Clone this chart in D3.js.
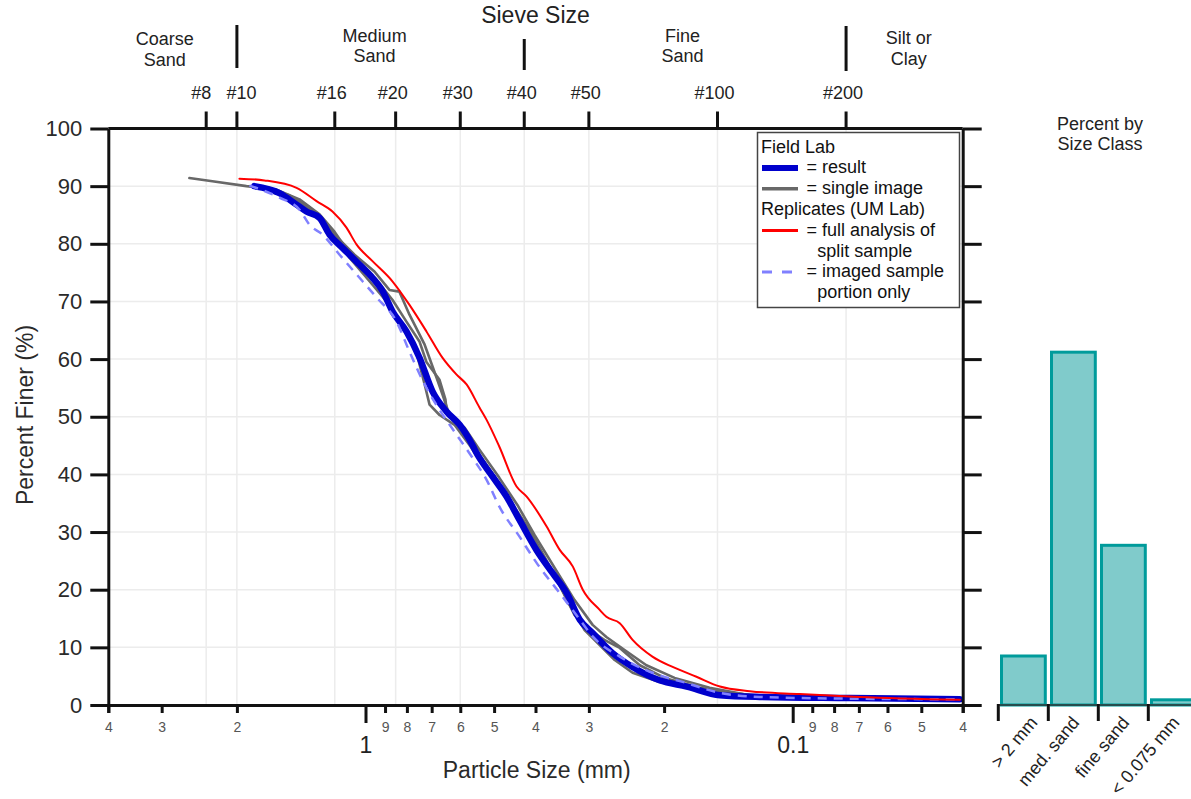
<!DOCTYPE html>
<html>
<head>
<meta charset="utf-8">
<script src="https://cdn.jsdelivr.net/npm/d3@7"></script>
<style>
  html, body { margin: 0; padding: 0; background: #fff; }
  svg { display: block; font-family: "Liberation Sans", Arial, sans-serif; }
</style>
</head>
<body>
<svg id="chart" width="1191" height="799"></svg>
<script>
// ---- Sieve scale (top axis) ----
const sieveNames = ["#8", "#10", "#16", "#20", "#30", "#40", "#50", "#100", "#200"];
const sieveSizes = [2.36, 2.0, 1.18, 0.85, 0.6, 0.425, 0.3, 0.15, 0.075];

// size-class bands: boundary sieves and label centres (mm)
const classBoundaries = [2.0, 0.425, 0.075];
const classLabels = [["Coarse", "Sand"], ["Medium", "Sand"], ["Fine", "Sand"], ["Silt or", "Clay"]];
const classCenters = [2.95, 0.952, 0.181, 0.0535];

// ---- Bottom axis ----
const sizeTicks = [4, 3, 2, 1, 0.9, 0.8, 0.7, 0.6, 0.5, 0.4, 0.3, 0.2, 0.1, 0.09, 0.08, 0.07, 0.06, 0.05, 0.04];
const majorTicks = [1, 0.1];
const percentTicks = [0, 10, 20, 30, 40, 50, 60, 70, 80, 90, 100];

// ---- Grain-size curves: [particle size (mm), percent finer] ----
const fieldResult = [
  [1.82, 90.0], [1.59, 88.8], [1.45, 86.8], [1.375, 85.6], [1.281, 84.5], [1.214, 81.6],
  [1.132, 79.3], [1.033, 76.4], [0.963, 74.1], [0.912, 71.8], [0.865, 68.3], [0.802, 64.8],
  [0.747, 60.2], [0.697, 54.4], [0.646, 50.9], [0.602, 48.6], [0.562, 45.1], [0.55, 43.75],
  [0.504, 39.6], [0.468, 36.2], [0.436, 32.1], [0.398, 26.9], [0.365, 22.9], [0.338, 19.4],
  [0.315, 14.8], [0.294, 12.5], [0.264, 9.0], [0.237, 6.6], [0.205, 4.3], [0.177, 3.2],
  [0.148, 1.7], [0.1195, 1.4], [0.0735, 1.2], [0.0406, 1.0]
];

const singleImageA = [
  [2.584, 91.4], [2.282, 90.85], [1.9, 90.0], [1.616, 89.4], [1.427, 87.7], [1.281, 85.1],
  [1.182, 82.1], [1.073, 77.6], [0.979, 74.65], [0.912, 72.4], [0.865, 70.3], [0.802, 66.5],
  [0.747, 63.0], [0.72, 59.5], [0.671, 56.4], [0.65, 53.0], [0.646, 51.2], [0.619, 49.5],
  [0.586, 47.4], [0.541, 43.4], [0.493, 39.1], [0.455, 34.7], [0.42, 30.4], [0.381, 25.2],
  [0.351, 20.8], [0.324, 15.6], [0.299, 13.0], [0.276, 11.3], [0.254, 9.9], [0.228, 6.9],
  [0.1994, 4.7], [0.1652, 3.0], [0.126, 1.7], [0.0735, 1.2], [0.0406, 1.0]
];

const singleImageB = [
  [1.82, 89.9], [1.507, 88.4], [1.352, 86.3], [1.214, 82.5], [1.09, 77.6], [0.963, 72.9],
  [0.879, 69.4], [0.81, 65.1], [0.768, 62.5], [0.727, 55.6], [0.708, 52.1], [0.671, 50.3],
  [0.619, 48.6], [0.571, 45.1], [0.512, 39.9], [0.46, 35.6], [0.413, 30.4], [0.372, 24.3],
  [0.333, 17.4], [0.307, 13.0], [0.283, 10.4], [0.261, 7.8], [0.237, 5.6], [0.205, 4.0],
  [0.1652, 2.6], [0.1195, 1.6], [0.0735, 1.2], [0.0406, 1.0]
];

const singleImageC = [
  [1.79, 89.8], [1.507, 88.0], [1.316, 85.6], [1.182, 81.6], [1.061, 78.1], [0.953, 75.2],
  [0.879, 72.0], [0.833, 71.7], [0.789, 67.7], [0.727, 62.5], [0.682, 56.8], [0.66, 53.8],
  [0.636, 50.3], [0.586, 48.1], [0.541, 44.3], [0.486, 39.4], [0.441, 34.7], [0.402, 29.5],
  [0.361, 23.8], [0.324, 18.2], [0.294, 13.9], [0.273, 11.8], [0.247, 9.5], [0.22, 6.9],
  [0.189, 4.7], [0.1565, 3.0], [0.126, 1.7], [0.0735, 1.2], [0.0406, 1.0]
];

const replicateFull = [
  [1.973, 91.3], [1.724, 91.0], [1.45, 89.7], [1.302, 87.4], [1.195, 85.6], [1.108, 82.8],
  [1.05, 79.9], [0.963, 77.0], [0.865, 73.5], [0.789, 69.4], [0.72, 64.8], [0.66, 60.2],
  [0.612, 57.3], [0.58, 55.6], [0.541, 51.6], [0.521, 49.5], [0.486, 44.8], [0.443, 37.9],
  [0.42, 36.2], [0.377, 31.0], [0.351, 26.9], [0.327, 24.0], [0.31, 20.0], [0.283, 16.5],
  [0.273, 15.3], [0.254, 14.2], [0.237, 11.3], [0.213, 8.4], [0.191, 6.6], [0.168, 4.9],
  [0.148, 3.2], [0.126, 2.4], [0.0963, 1.9], [0.0697, 1.4], [0.0406, 0.9]
];

const replicateImaged = [
  [1.869, 90.1], [1.59, 88.0], [1.427, 85.9], [1.352, 83.3], [1.261, 81.6], [1.15, 78.1],
  [1.016, 73.5], [0.942, 70.7], [0.846, 66.5], [0.789, 61.3], [0.727, 55.6], [0.671, 51.2],
  [0.619, 47.4], [0.562, 42.9], [0.521, 39.1], [0.486, 34.4], [0.436, 29.2], [0.398, 24.7],
  [0.351, 19.4], [0.315, 14.8], [0.294, 11.9], [0.254, 8.4], [0.213, 5.6], [0.177, 3.8],
  [0.148, 2.1], [0.1195, 1.4], [0.0735, 1.1], [0.0406, 1.0]
];

// ---- Percent by size class ----
const classCategories = ["> 2 mm", "med. sand", "fine sand", "< 0.075 mm"];
const classPercents = [8.5, 61.2, 27.7, 0.9];

// ---- Drawing ----
const svg = d3.select("#chart");
const ink = "#111";
const plotL = 108.3, plotR = 962.7, plotT = 128.5, plotB = 705;

const x = d3.scaleLog().domain([4, 0.04]).range([plotL, plotR]);
const y = d3.scaleLinear().domain([0, 100]).range([plotB, plotT]);

// gridlines
const grid = svg.append("g").attr("stroke", "#ececec").attr("stroke-width", 1.5);
grid.selectAll(".h").data(percentTicks.filter(v => v > 0 && v < 100)).join("line")
  .attr("x1", plotL).attr("x2", plotR).attr("y1", d => y(d)).attr("y2", d => y(d));
grid.selectAll(".v").data(sieveSizes).join("line")
  .attr("x1", d => x(d)).attr("x2", d => x(d)).attr("y1", plotT).attr("y2", plotB);

// curves
svg.append("defs").append("clipPath").attr("id", "plotClip")
  .append("rect").attr("x", plotL).attr("y", plotT - 10).attr("width", plotR - plotL).attr("height", plotB - plotT + 10);

const jagged = d3.line().x(d => x(d[0])).y(d => y(d[1]));
const smooth = d3.line().x(d => x(d[0])).y(d => y(d[1])).curve(d3.curveMonotoneX);
const curves = svg.append("g").attr("clip-path", "url(#plotClip)")
  .attr("fill", "none").attr("stroke-linejoin", "round").attr("stroke-linecap", "round");

[singleImageA, singleImageB, singleImageC].forEach(s => {
  curves.append("path").datum(s).attr("d", jagged).attr("stroke", "#686868").attr("stroke-width", 2.6);
});
curves.append("path").datum(fieldResult).attr("d", smooth).attr("stroke", "#0000cc").attr("stroke-width", 6.5);
curves.append("path").datum(replicateImaged).attr("d", smooth).attr("stroke", "#8080ff")
  .attr("stroke-width", 2.5).attr("stroke-dasharray", "9,7").attr("stroke-linecap", "butt");
curves.append("path").datum(replicateFull).attr("d", smooth).attr("stroke", "#ff0000").attr("stroke-width", 2);

// left axis
const yAxisL = svg.append("g").attr("transform", `translate(${plotL},0)`)
  .call(d3.axisLeft(y).tickValues(percentTicks).tickSize(18).tickSizeOuter(0).tickPadding(8));
yAxisL.attr("font-family", null).attr("font-size", null);
yAxisL.selectAll("path, line").attr("stroke", ink).attr("stroke-width", 3);
yAxisL.selectAll("text").attr("font-size", 22).attr("fill", "#2a2a2a");

// right axis
const yAxisR = svg.append("g").attr("transform", `translate(${plotR},0)`)
  .call(d3.axisRight(y).tickValues(percentTicks).tickSize(19).tickSizeOuter(0).tickFormat(""));
yAxisR.selectAll("path, line").attr("stroke", ink).attr("stroke-width", 3);

// bottom axis (log, reversed)
const leadDigit = d => String(Math.round(d / Math.pow(10, Math.floor(Math.log10(d) + 1e-9))));
const xAxis = svg.append("g").attr("transform", `translate(0,${plotB})`)
  .call(d3.axisBottom(x).tickValues(sizeTicks).tickSizeOuter(0).tickSize(8)
    .tickFormat(d => majorTicks.includes(d) ? String(d) : leadDigit(d)));
xAxis.attr("font-family", null).attr("font-size", null);
xAxis.select(".domain").attr("stroke", ink).attr("stroke-width", 3);
xAxis.selectAll(".tick line").attr("stroke", ink).attr("stroke-width", 3)
  .attr("y2", d => majorTicks.includes(d) ? 18 : 8);
xAxis.selectAll(".tick text")
  .attr("font-size", d => majorTicks.includes(d) ? 23 : 14)
  .attr("fill", d => majorTicks.includes(d) ? "#222" : "#555")
  .attr("dy", null)
  .attr("y", d => majorTicks.includes(d) ? 48 : 27);

// top sieve axis
const sieveLabelNudge = [-5, 4.5, -3, -3, -2.5, -2.6, -3, -3, -3];
const topAxis = svg.append("g");
topAxis.append("line").attr("x1", plotL).attr("x2", plotR).attr("y1", plotT).attr("y2", plotT)
  .attr("stroke", ink).attr("stroke-width", 3);
topAxis.selectAll(".st").data(sieveSizes).join("line")
  .attr("x1", d => x(d)).attr("x2", d => x(d)).attr("y1", plotT).attr("y2", plotT - 17)
  .attr("stroke", ink).attr("stroke-width", 3);
topAxis.selectAll(".sl").data(sieveSizes).join("text")
  .attr("x", (d, i) => x(d) + sieveLabelNudge[i]).attr("y", 99).attr("text-anchor", "middle")
  .attr("font-size", 18).attr("fill", "#222")
  .text((d, i) => sieveNames[i]);

// class dividers
const dividerSpans = [[25, 68], [39, 70], [26, 71]];
topAxis.selectAll(".cd").data(classBoundaries).join("line")
  .attr("x1", d => x(d)).attr("x2", d => x(d))
  .attr("y1", (d, i) => dividerSpans[i][0]).attr("y2", (d, i) => dividerSpans[i][1])
  .attr("stroke", ink).attr("stroke-width", 3);

const classBase = [45, 41.7, 41.7, 44.3];
classLabels.forEach((lines, i) => {
  const t = topAxis.append("text").attr("text-anchor", "middle").attr("font-size", 18).attr("fill", "#222");
  lines.forEach((s, j) => {
    t.append("tspan").attr("x", x(classCenters[i])).attr("y", classBase[i] + j * 20.5).text(s);
  });
});

svg.append("text").attr("x", 535.5).attr("y", 23).attr("text-anchor", "middle")
  .attr("font-size", 23).attr("fill", "#222").text("Sieve Size");

// axis titles
svg.append("text").attr("transform", "translate(33,415) rotate(-90)").attr("text-anchor", "middle")
  .attr("font-size", 23).attr("fill", "#2a2a2a").text("Percent Finer (%)");
svg.append("text").attr("x", 536.7).attr("y", 778).attr("text-anchor", "middle")
  .attr("font-size", 23).attr("fill", "#2a2a2a").text("Particle Size (mm)");

// legend
const lg = svg.append("g");
lg.append("rect").attr("x", 757.5).attr("y", 132.5).attr("width", 202).attr("height", 175)
  .attr("fill", "#fff").attr("stroke", "#444").attr("stroke-width", 1.5);
const legendRows = [
  { text: "Field Lab", tx: 761 },
  { text: "= result", tx: 806.5, sw: { stroke: "#0000cc", width: 6 } },
  { text: "= single image", tx: 806.5, sw: { stroke: "#686868", width: 3.5 } },
  { text: "Replicates (UM Lab)", tx: 761 },
  { text: "= full analysis of", tx: 806.5, sw: { stroke: "#ff0000", width: 3 } },
  { text: "split sample", tx: 817.3 },
  { text: "= imaged sample", tx: 806.5, sw: { stroke: "#8080ff", width: 3, dash: "10,10" } },
  { text: "portion only", tx: 817.3 }
];
legendRows.forEach((r, i) => {
  const base = 152.5 + i * 20.8;
  lg.append("text").attr("x", r.tx).attr("y", base).attr("font-size", 18).attr("fill", "#111").text(r.text);
  if (r.sw) {
    lg.append("line").attr("x1", 762).attr("x2", 798).attr("y1", base - 5.3).attr("y2", base - 5.3)
      .attr("stroke", r.sw.stroke).attr("stroke-width", r.sw.width)
      .attr("stroke-dasharray", r.sw.dash || null);
  }
});

// ---- Percent by size class bars ----
const xb = d3.scaleBand().domain(classCategories).range([998.3, 1198.3]).padding(0);
const bars = svg.append("g");
bars.selectAll("rect").data(classCategories).join("rect")
  .attr("x", d => xb(d) + 3.2)
  .attr("width", xb.bandwidth() - 6.2)
  .attr("y", (d, i) => y(classPercents[i]))
  .attr("height", (d, i) => y(0) - y(classPercents[i]))
  .attr("fill", "#80cbcb").attr("stroke", "#009b9b").attr("stroke-width", 3);

bars.append("line").attr("x1", 998.3).attr("x2", 1191).attr("y1", plotB).attr("y2", plotB)
  .attr("stroke", "#333").attr("stroke-width", 1.5);
bars.selectAll(".bt").data(classCategories).join("line")
  .attr("x1", d => xb(d)).attr("x2", d => xb(d)).attr("y1", plotB - 1).attr("y2", plotB + 16)
  .attr("stroke", ink).attr("stroke-width", 3);
const barLabelNudge = [8, 0, 0, 0];
bars.selectAll(".bl").data(classCategories).join("text")
  .attr("text-anchor", "end").attr("font-size", 18).attr("fill", "#222")
  .attr("transform", (d, i) => `translate(${xb(d) + xb.bandwidth() / 2 + 7 + barLabelNudge[i]},723) rotate(-50)`)
  .text(d => d);

const bt = svg.append("text").attr("text-anchor", "middle").attr("font-size", 18).attr("fill", "#222");
bt.append("tspan").attr("x", 1100).attr("y", 130).text("Percent by");
bt.append("tspan").attr("x", 1100).attr("y", 149.5).text("Size Class");
</script>
</body>
</html>
